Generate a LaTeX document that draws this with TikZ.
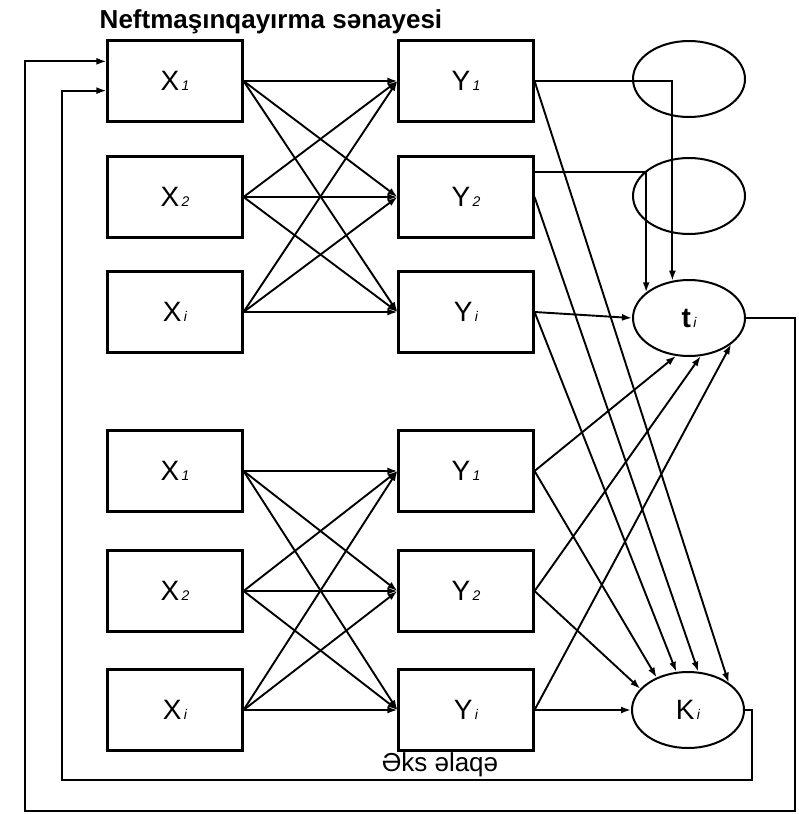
\documentclass[tikz,border=0pt]{standalone}
\usepackage{fontspec}
\setmainfont{Liberation Sans}
\usepackage{tikz}
\usetikzlibrary{positioning,shapes.geometric,arrows.meta}

\tikzset{
  blok/.style={draw, line width=2.1pt, minimum width=135pt, minimum height=81pt,
    inner sep=0pt, font=\fontsize{28}{28}\selectfont},
  oval/.style={draw, ellipse, line width=2pt, minimum width=112pt, minimum height=76pt,
    inner sep=0pt, font=\fontsize{28}{28}\selectfont},
  con/.style={line width=1.9pt},
  arr/.style={con, -{Latex[length=10pt,width=7pt]}}
}
\newcommand{\ind}[1]{{\fontsize{14}{14}\selectfont\itshape\,#1}}

\begin{document}
\begin{tikzpicture}[x=1pt,y=-1pt]
  \useasboundingbox (0,0) rectangle (798,814);

  \node[anchor=base, font=\bfseries\fontsize{26}{26}\selectfont] (title) at (271,28) {Neftmaşınqayırma sənayesi};

  % bloklar
  \foreach \n/\y/\s in {1/81/1, 2/197/2, 3/312/i, 4/471/1, 5/591/2, 6/710/i} {
    \node[blok] (X\n) at (175,\y) {X\ind{\s}};
    \node[blok] (Y\n) at (466,\y) {Y\ind{\s}};
  }

  \node[oval] (E1) at (689,79) {};
  \node[oval] (E2) at (689,196) {};
  \node[oval] (ti) at (689,318) {\textbf{t}\ind{i}};
  \node[oval] (K) at (688,710) {K\ind{i}};

  % X -> Y
  \foreach \a in {1,2,3}
    \foreach \b in {1,2,3}
      \draw[arr] (X\a.east) -- (Y\b.west);
  \foreach \a in {4,5,6}
    \foreach \b in {4,5,6}
      \draw[arr] (X\a.east) -- (Y\b.west);

  % Y -> t, K
  \draw[arr] (Y1.east) -| (ti.114);
  \draw[arr] (Y2.20) -| (ti.149);
  \draw[arr] (Y3.east) -- (ti.west);
  \draw[arr] (Y1.east) -- (K.34);
  \draw[arr] (Y2.east) -- (K.75);
  \draw[arr] (Y3.east) -- (K.107);
  \draw[arr] (Y4.east) -- (K.134);
  \draw[arr] (Y5.east) -- (K.156);
  \draw[arr] (Y6.east) -- (K.west);
  \draw[arr] (Y4.east) -- (ti.251);
  \draw[arr] (Y5.east) -- (ti.287);
  \draw[arr] (Y6.east) -- (ti.328);

  % eks elaqe
  \coordinate (oR) at (795,811);
  \coordinate (oL) at (25,811);
  \coordinate (iR) at (752,780);
  \coordinate (iL) at (62,780);
  \draw[arr] (ti.east) -| (oR) -- (oL) |- (X1.164);
  \draw[arr] (K.east) -| (iR) -- (iL) |- (X1.188);

  \node[font=\fontsize{26}{26}\selectfont] (eks) at (440,765) {Əks əlaqə};
\end{tikzpicture}
\end{document}
